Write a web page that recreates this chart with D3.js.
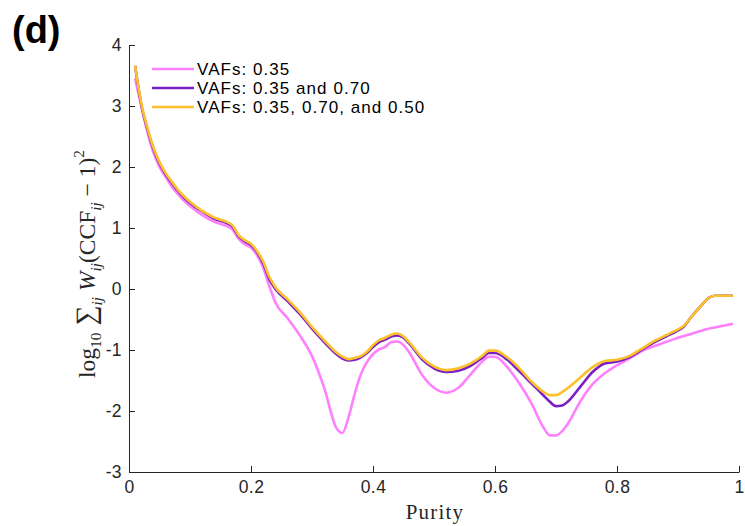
<!DOCTYPE html>
<html><head><meta charset="utf-8">
<script src="https://cdn.jsdelivr.net/npm/d3@7"></script>
<style>body{margin:0;background:#fff}svg{display:block}</style>
</head><body>
<svg id="c" width="745" height="526"></svg>
<script>
const purity = [0.01,0.02,0.03,0.04,0.05,0.06,0.07,0.08,0.09,0.10,0.12,0.14,0.16,0.17,0.18,0.19,0.20,0.21,0.22,0.23,0.24,0.26,0.28,0.30,0.32,0.34,0.35,0.36,0.37,0.38,0.39,0.40,0.41,0.42,0.43,0.44,0.45,0.46,0.48,0.50,0.52,0.54,0.56,0.58,0.59,0.60,0.62,0.64,0.66,0.68,0.69,0.70,0.71,0.72,0.74,0.76,0.78,0.80,0.82,0.84,0.86,0.88,0.90,0.91,0.92,0.94,0.95,0.96,0.98,0.99];
const vaf1 = [3.45,3.0,2.58,2.24,2.0,1.84,1.68,1.56,1.45,1.36,1.21,1.10,1.03,0.97,0.82,0.73,0.68,0.55,0.35,0.05,-0.22,-0.48,-0.76,-1.10,-1.62,-2.28,-2.36,-2.10,-1.72,-1.40,-1.20,-1.07,-0.99,-0.95,-0.87,-0.86,-0.92,-1.05,-1.40,-1.62,-1.70,-1.62,-1.40,-1.18,-1.11,-1.11,-1.28,-1.55,-1.88,-2.28,-2.40,-2.40,-2.33,-2.20,-1.84,-1.56,-1.38,-1.25,-1.14,-1.02,-0.94,-0.87,-0.80,-0.77,-0.74,-0.68,-0.65,-0.63,-0.59,-0.57];
const vaf2 = [3.66,3.03,2.63,2.30,2.06,1.88,1.74,1.61,1.50,1.41,1.27,1.15,1.08,1.02,0.86,0.78,0.72,0.60,0.42,0.16,0.0,-0.20,-0.41,-0.65,-0.87,-1.07,-1.14,-1.17,-1.16,-1.12,-1.05,-0.95,-0.87,-0.83,-0.78,-0.76,-0.80,-0.90,-1.15,-1.30,-1.36,-1.34,-1.26,-1.12,-1.05,-1.05,-1.16,-1.35,-1.55,-1.75,-1.85,-1.92,-1.91,-1.84,-1.60,-1.36,-1.22,-1.19,-1.12,-1.00,-0.88,-0.78,-0.68,-0.61,-0.48,-0.25,-0.15,-0.11,-0.11,-0.11];
const vaf3 = [3.66,3.05,2.65,2.32,2.08,1.90,1.76,1.63,1.52,1.43,1.28,1.17,1.10,1.04,0.88,0.80,0.74,0.62,0.45,0.20,0.03,-0.17,-0.38,-0.62,-0.84,-1.04,-1.11,-1.15,-1.13,-1.10,-1.03,-0.92,-0.84,-0.80,-0.75,-0.73,-0.78,-0.88,-1.12,-1.27,-1.33,-1.30,-1.22,-1.09,-1.01,-1.01,-1.12,-1.30,-1.52,-1.69,-1.74,-1.74,-1.69,-1.62,-1.45,-1.28,-1.18,-1.16,-1.10,-0.98,-0.86,-0.76,-0.66,-0.60,-0.48,-0.25,-0.15,-0.11,-0.11,-0.11];
const seriesNames = ["VAFs: 0.35","VAFs: 0.35 and 0.70","VAFs: 0.35, 0.70, and 0.50"];
const xTicks = [0,0.2,0.4,0.6,0.8,1];
const xTickLabels = ["0","0.2","0.4","0.6","0.8","1"];
const yTicks = [-3,-2,-1,0,1,2,3,4];

const colors = ["#ff80ff","#7a1fc6","#fbc02a"];
const sans = "Liberation Sans, Arial, sans-serif";
const serif = "Liberation Serif, DejaVu Serif, serif";
const svg = d3.select("#c");
const L=129, R=739, T=45, B=472;
const x = d3.scaleLinear().domain([0,1]).range([L,R]);
const y = d3.scaleLinear().domain([-3,4]).range([B,T]);

// panel label
svg.append("text").attr("x",12).attr("y",43).attr("font-family",sans)
  .attr("font-weight","bold").attr("font-size",38).attr("fill","#000").text("(d)");

// axes
const ax = svg.append("g").attr("transform",`translate(0,${B})`)
  .call(d3.axisBottom(x).tickValues(xTicks).tickFormat((d,i)=>xTickLabels[i]).tickSizeInner(-6).tickSizeOuter(0).tickPadding(9));
const ay = svg.append("g").attr("transform",`translate(${L},0)`)
  .call(d3.axisLeft(y).tickValues(yTicks).tickFormat(d=>String(d)).tickSizeInner(-6).tickSizeOuter(0).tickPadding(7));
[ax,ay].forEach(g=>{
  g.select(".domain").attr("stroke","#262626").attr("stroke-width",1);
  g.selectAll(".tick line").attr("stroke","#262626");
  g.selectAll(".tick text").attr("fill","#262626").attr("font-family",sans).attr("font-size",17.5).attr("letter-spacing",0.4);
});

// lines
const data = [vaf1,vaf2,vaf3];
const line = d3.line().x((d,i)=>x(purity[i])).y(d=>y(d)).curve(d3.curveMonotoneX);
data.forEach((s,k)=>{
  svg.append("path").datum(s).attr("d",line).attr("fill","none")
    .attr("stroke",colors[k]).attr("stroke-width",2.6).attr("stroke-linejoin","round");
});

// legend
const lg = svg.append("g");
seriesNames.forEach((n,k)=>{
  const yy = 69 + k*19;
  lg.append("line").attr("x1",152).attr("x2",194).attr("y1",yy).attr("y2",yy)
    .attr("stroke",colors[k]).attr("stroke-width",2.6);
  lg.append("text").attr("x",197).attr("y",yy+5.8).attr("font-family",sans)
    .attr("font-size",17).attr("letter-spacing",1.05).attr("fill","#000").text(n);
});

// x label
svg.append("text").attr("x",435).attr("y",519).attr("text-anchor","middle")
  .attr("font-family",serif).attr("font-size",21).attr("letter-spacing",1.2).attr("fill","#262626").text("Purity");

// y label (math)
const ylg = svg.append("g").attr("transform","translate(95,264) rotate(-90)");
const yl = ylg.append("text").attr("text-anchor","middle")
  .attr("font-family",serif).attr("font-size",20).attr("fill","#262626");
yl.append("tspan").text("log");
yl.append("tspan").attr("font-size",13).attr("dy",5).text("10");
yl.append("tspan").attr("dy",-5).attr("font-size",24).text(" \u2211");
yl.append("tspan").attr("font-size",13).attr("dy",6).attr("font-style","italic").text("ij");
yl.append("tspan").attr("dy",-6).attr("font-style","italic").text(" W");
yl.append("tspan").attr("font-size",13).attr("dy",5).attr("font-style","italic").text("ij");
yl.append("tspan").attr("dy",-5).text("(CCF");
yl.append("tspan").attr("font-size",13).attr("dy",5).attr("font-style","italic").text("ij");
yl.append("tspan").attr("dy",-5).text(" \u2212 1)");
yl.append("tspan").attr("font-size",13).attr("dy",-9).text("2");
const w = yl.node().getComputedTextLength();
const k = 228 / w;
yl.attr("transform",`scale(${k})`);
</script>
</body></html>
